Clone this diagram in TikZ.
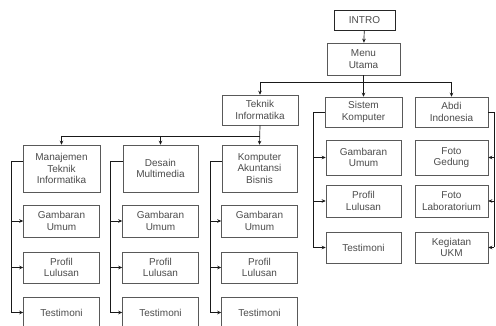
\documentclass[tikz,border=0pt]{standalone}
\usepackage{fontspec}
\setmainfont{Liberation Sans}
\usetikzlibrary{arrows.meta}
\begin{document}
\begin{tikzpicture}[x=1pt,y=-1pt,
  box/.style={draw=black!65, line width=0.6pt, align=center, inner sep=0pt,
    font=\fontsize{10}{11.5}\selectfont, text=black!70},
  conn/.style={draw=black!90, line width=0.7pt},
  arr/.style={conn, -{Stealth[length=4pt,width=3.6pt]}}]
\clip (0,0) rectangle (496,326);
\fill[white] (0,0) rectangle (496,326);
% top levels
\node[box, minimum width=61pt, minimum height=20pt, line width=0.9pt, draw=black!85] (intro) at (364.5,20) {INTRO};
\node[box, minimum width=73pt, minimum height=32pt] (menu) at (363.5,59) {Menu\\Utama};
\node[box, minimum width=76pt, minimum height=30pt] (ti) at (260,110) {Teknik\\Informatika};
\node[box, minimum width=77pt, minimum height=30pt] (sk) at (363.5,112) {Sistem\\Komputer};
\node[box, minimum width=73pt, minimum height=30pt] (si) at (451.5,112) {Abdi\\Indonesia};
\draw[arr] (intro) -- (menu);
\coordinate (barL) at (260,82);
\coordinate (barR) at (451.5,82);
\draw[conn] (barL) -- (barR);
\draw[conn] (menu.south) -- (menu.south |- barL);
\draw[arr] (menu.south |- barL) -- (sk.north);
\draw[arr] (barL) -- (ti.north);
\draw[arr] (barR) -- (si.north);
% level 3
\node[box, minimum width=77pt, minimum height=47pt] (mti) at (61.5,168.5) {Manajemen\\Teknik\\Informatika};
\node[box, minimum width=75pt, minimum height=47pt] (dm) at (160.5,168.5) {Desain\\Multimedia};
\node[box, minimum width=75pt, minimum height=47pt] (kab) at (259.5,168.5) {Komputer\\Akuntansi\\Bisnis};
\coordinate (b2L) at (61.5,136);
\coordinate (b2R) at (259.5,136);
\draw[conn] (b2L) -- (b2R);
\draw[arr] (ti.south) -- (kab.north);
\draw[arr] (b2L) -- (mti.north);
\draw[arr] (160.5,136) -- (dm.north);
% children of level 3
\foreach \p/\cx/\lx in {m/61.5/11, d/160.5/110, k/259.5/210}{
  \node[box, minimum width=76pt, minimum height=32pt] (\p g) at (\cx,221) {Gambaran\\Umum};
  \node[box, minimum width=76pt, minimum height=31pt] (\p p) at (\cx,267.5) {Profil\\Lulusan};
  \node[box, minimum width=76pt, minimum height=31pt] (\p t) at (\cx,312.5) {Testimoni};
  \coordinate (\p top) at (\lx,161);
  \coordinate (\p bot) at (\lx,312.5);
  \draw[conn] (\p top) -- (\p bot);
  \draw[arr] (\p top |- \p g.west) -- (\p g.west);
  \draw[arr] (\p top |- \p p.west) -- (\p p.west);
  \draw[arr] (\p bot) -- (\p t.west);
}
\draw[conn] (mti.west |- mtop) -- (mtop);
\draw[conn] (dm.west |- dtop) -- (dtop);
\draw[conn] (kab.west |- ktop) -- (ktop);
% Sistem Komputer children
\node[box, minimum width=75pt, minimum height=35pt] (skg) at (363.5,157.5) {Gambaran\\Umum};
\node[box, minimum width=75pt, minimum height=32pt] (skp) at (363.5,201) {Profil\\Lulusan};
\node[box, minimum width=75pt, minimum height=31pt] (skt) at (363.5,247.5) {Testimoni};
\coordinate (sktop) at (313,112);
\coordinate (skbot) at (313,247.5);
\draw[conn] (sk.west) -- (sktop) -- (skbot);
\draw[arr] (sktop |- skg.west) -- (skg.west);
\draw[arr] (sktop |- skp.west) -- (skp.west);
\draw[arr] (skbot) -- (skt.west);
% third column children
\node[box, minimum width=73pt, minimum height=35pt] (sig) at (451.5,157.5) {Foto\\Gedung};
\node[box, minimum width=73pt, minimum height=32pt] (sip) at (451.5,201) {Foto\\Laboratorium};
\node[box, minimum width=73pt, minimum height=31pt] (sit) at (451.5,247.5) {Kegiatan\\UKM};
\coordinate (sitop) at (494,112);
\coordinate (sibot) at (494,247.5);
\draw[conn] (si.east) -- (sitop) -- (sibot);
\draw[arr] (sitop |- sig.east) -- (sig.east);
\draw[arr] (sitop |- sip.east) -- (sip.east);
\draw[arr] (sibot) -- (sit.east);
\end{tikzpicture}
\end{document}
